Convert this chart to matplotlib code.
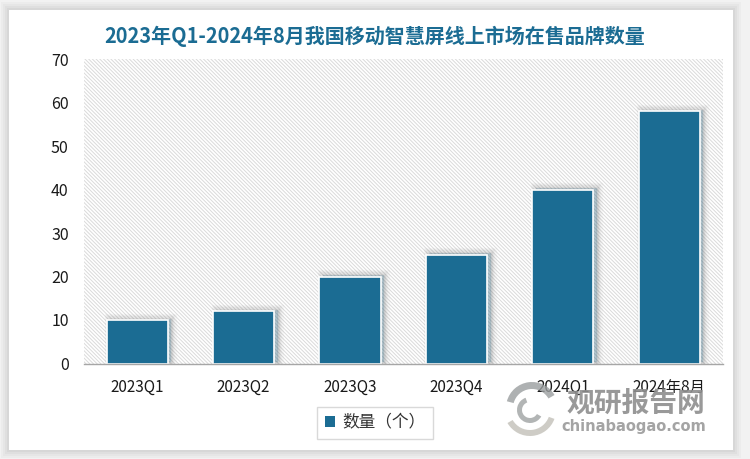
import matplotlib
matplotlib.use("Agg")
import matplotlib.pyplot as plt
import matplotlib.patheffects as pe
from matplotlib.patches import Patch, Rectangle, Wedge

plt.rcParams['font.family'] = ['Noto Sans CJK SC', 'DejaVu Sans']
plt.rcParams['hatch.linewidth'] = 0.7

# data
categories = ['2023Q1', '2023Q2', '2023Q3', '2023Q4', '2024Q1', '2024年8月']
counts = [10, 12, 20, 25, 40, 58]
y_ticks = [0, 10, 20, 30, 40, 50, 60, 70]
series_name = '数量（个）'
title = '2023年Q1-2024年8月我国移动智慧屏线上市场在售品牌数量'

W, H = 750, 459
BLUE = '#1B6C93'

fig = plt.figure(figsize=(W / 100, H / 100), dpi=100, facecolor='#F2F2F2')

# background layer in pixel coordinates: card and its soft shadow
bg = fig.add_axes([0, 0, 1, 1], zorder=0)
bg.set_xlim(0, W)
bg.set_ylim(H, 0)
bg.axis('off')
for grow, alpha in [(8, 0.05), (6, 0.06), (4, 0.07), (2, 0.09)]:
    bg.add_patch(Rectangle((9 - grow, 10 - grow), 724 + 2 * grow, 440 + 2 * grow,
                           fc='#888888', ec='none', alpha=alpha))
bg.add_patch(Rectangle((9, 10), 724, 440, fc='white', ec='none'))

# plot area
ax = fig.add_axes([84 / W, 1 - 363.5 / H, 638.5 / W, 304.5 / H], zorder=1)
ax.set_facecolor('white')
ax.add_patch(Rectangle((0, 0), 1, 1, transform=ax.transAxes, fc='white',
                       ec='#DADADA', lw=0, hatch='\\' * 9, zorder=0))

x = list(range(len(categories)))
bars = ax.bar(x, counts, width=0.575, color=BLUE, edgecolor='white', linewidth=1.2, zorder=3)
for b in bars:
    # stacked wide strokes give the soft shadow up and to the right
    b.set_path_effects([
        pe.Stroke(linewidth=8, foreground='#666666', alpha=0.04, offset=(2.5, 1)),
        pe.Stroke(linewidth=6, foreground='#666666', alpha=0.06, offset=(2.5, 1)),
        pe.Stroke(linewidth=4, foreground='#666666', alpha=0.08, offset=(2.5, 1)),
        pe.Stroke(linewidth=2, foreground='#666666', alpha=0.10, offset=(2.5, 1)),
        pe.Normal(),
    ])

ax.set_xlim(-0.5, len(categories) - 0.5)
ax.set_ylim(0, 70)
ax.set_yticks(y_ticks)
ax.set_xticks(x)
ax.set_xticklabels(categories)
ax.tick_params(axis='y', length=0, pad=11, labelsize=11.5, labelcolor='#1A1A1A')
ax.tick_params(axis='x', length=0, pad=11, labelsize=11, labelcolor='#1A1A1A')
for side in ['top', 'right', 'left']:
    ax.spines[side].set_visible(False)
ax.spines['bottom'].set_color('#A6A6A6')
ax.spines['bottom'].set_linewidth(1.0)
ax.spines['bottom'].set_zorder(4)

fig.text(375 / W, 1 - 36 / H, title, ha='center', va='center', fontsize=14.4,
         fontweight='bold', color=BLUE)

# legend box
leg = ax.legend(handles=[Patch(fc=BLUE, ec='none', label=series_name)],
                loc='center', bbox_to_anchor=(375 / W, 1 - 423 / H),
                bbox_transform=fig.transFigure, frameon=True, fontsize=12,
                handlelength=0.6, handleheight=0.6, handletextpad=0.45,
                borderpad=0.45, borderaxespad=0, fancybox=False, edgecolor='#D9D9D9',
                labelcolor='#333333', framealpha=1)
leg.get_frame().set_linewidth(1.0)

# watermark on top
top = fig.add_axes([0, 0, 1, 1], zorder=2)
top.set_xlim(0, W)
top.set_ylim(H, 0)
top.axis('off')
top.patch.set_alpha(0)
top.add_patch(Wedge((530, 410), 26, 20, 150, width=6, fc='#C9C7C0', ec='none', alpha=0.9))
top.add_patch(Wedge((532, 408), 26, 195, 330, width=7, fc='#9A9E9F', ec='none', alpha=0.8))
top.add_patch(Wedge((530, 410), 13, 30, 250, width=5, fc='#A5A8A8', ec='none', alpha=0.85))
top.text(636, 404, '观研报告网', ha='center', va='center', fontsize=20, fontweight='bold',
         color='#8E8E8E', alpha=0.9)
top.text(634, 426, 'chinabaogao.com', ha='center', va='center', fontsize=10.5,
         fontweight='bold', color='#9A9A9A', alpha=0.9, family=['DejaVu Sans'])

fig.savefig('out.png', dpi=100, facecolor=fig.get_facecolor())
